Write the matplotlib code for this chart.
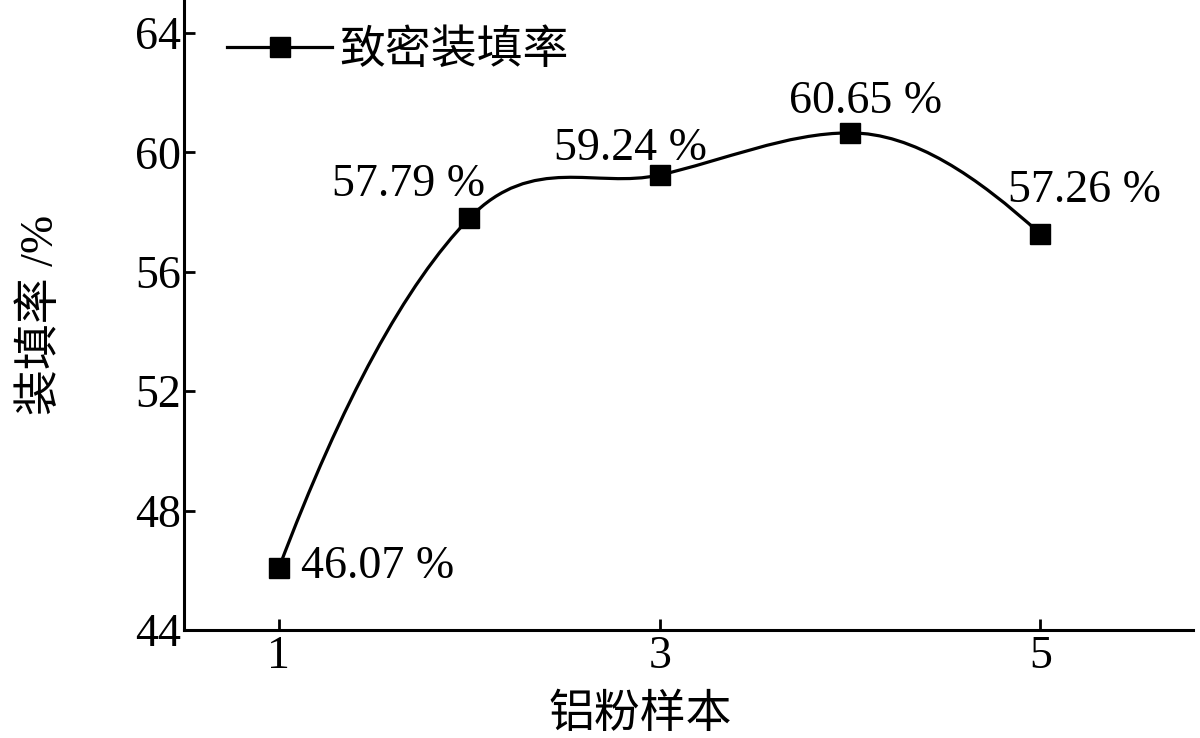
"""Packing density of five aluminium powder samples."""

import matplotlib
matplotlib.use("Agg")
import matplotlib.pyplot as plt
import numpy as np
from matplotlib.lines import Line2D
from matplotlib.patches import PathPatch
from matplotlib.path import Path

plt.rcParams["font.family"] = ["Liberation Serif", "Noto Sans CJK SC"]

samples = np.array([1, 2, 3, 4, 5], dtype=float)
density = np.array([46.07, 57.79, 59.24, 60.65, 57.26])
point_labels = ["46.07 %", "57.79 %", "59.24 %", "60.65 %", "57.26 %"]
yticks = [44, 48, 52, 56, 60, 64]
xticks = [1, 3, 5]


def _slopes(x, y):
    # Catmull-Rom tangents, flattened at local extrema
    d = np.diff(y) / np.diff(x)
    m = np.zeros_like(y)
    for i in range(1, len(y) - 1):
        if d[i - 1] * d[i] > 0:
            m[i] = (y[i + 1] - y[i - 1]) / (x[i + 1] - x[i - 1])
    m[0] = (3 * d[0] - d[1]) / 2
    m[-1] = (3 * d[-1] - d[-2]) / 2
    return m


def _smooth_path(x, y):
    m = _slopes(x, y)
    verts = [(x[0], y[0])]
    codes = [Path.MOVETO]
    for i in range(len(x) - 1):
        dx = (x[i + 1] - x[i]) / 3.0
        verts += [
            (x[i] + dx, y[i] + m[i] * dx),
            (x[i + 1] - dx, y[i + 1] - m[i + 1] * dx),
            (x[i + 1], y[i + 1]),
        ]
        codes += [Path.CURVE4] * 3
    return Path(verts, codes)


fig = plt.figure(figsize=(12, 7.38), dpi=100)
ax = fig.add_axes([0.153, 0.1463, 0.841, 0.8537])

ax.add_patch(PathPatch(_smooth_path(samples, density), facecolor="none",
                       edgecolor="black", linewidth=2.3, zorder=3))
ax.plot(samples, density, linestyle="none", marker="s", markersize=14.5,
        color="black", zorder=4)

offsets = [(22, -10, "left"), (-61, 22, "center"), (-29, 15, "center"),
           (16, 20, "center"), (44, 32, "center")]
for xv, yv, txt, (dx, dy, ha) in zip(samples, density, point_labels, offsets):
    ax.annotate(txt, (xv, yv), textcoords="offset pixels", xytext=(dx, dy),
                ha=ha, va="baseline", fontsize=33)

ax.set_xlim(0.5, 5.8)
ax.set_ylim(44, 65.1)
ax.set_xticks(xticks)
ax.set_yticks(yticks)

for side in ("top", "right"):
    ax.spines[side].set_visible(False)
for side in ("left", "bottom"):
    ax.spines[side].set_linewidth(2.2)
ax.tick_params(direction="in", length=8, width=2.0, labelsize=33)
ax.tick_params(axis="y", pad=2)
ax.tick_params(axis="x", pad=4)

ax.set_xlabel("铝粉样本", fontsize=33)
ax.xaxis.set_label_coords(0.452, -0.103)
ax.set_ylabel("装填率 /%", fontsize=33)
ax.yaxis.set_label_coords(-0.12, 0.5)

handle = Line2D([], [], color="black", linewidth=2.3, marker="s",
                markersize=14.5)
ax.legend([handle], ["致密装填率"], loc="upper left",
          bbox_to_anchor=(0.043, 0.952), frameon=False, fontsize=33,
          handlelength=2.3, handletextpad=0.15, borderpad=0.0,
          borderaxespad=0.0)

fig.savefig("out.png", dpi=100)
